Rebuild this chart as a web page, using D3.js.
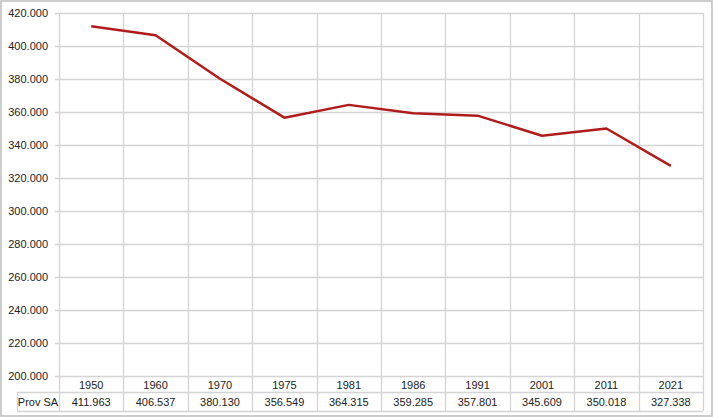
<!DOCTYPE html>
<html><head><meta charset="utf-8">
<script src="https://cdn.jsdelivr.net/npm/d3@7"></script>
<style>body{margin:0;background:#fff}svg{display:block}text{font-family:"Liberation Sans",Arial,sans-serif;font-size:11px;fill:#222}</style>
</head><body><svg id="c" width="714" height="417"></svg>
<script>
const categories = ["1950","1960","1970","1975","1981","1986","1991","2001","2011","2021"];
const values = [411963,406537,380130,356549,364315,359285,357801,345609,350018,327338];
const valueLabels = ["411.963","406.537","380.130","356.549","364.315","359.285","357.801","345.609","350.018","327.338"];
const seriesName = "Prov SA";
const yTicks = [200000,220000,240000,260000,280000,300000,320000,340000,360000,380000,400000,420000];

const svg = d3.select("#c");
const L = 59, R = 703, T = 13, B = 376, row1 = 392, row2 = 411, tableLeft = 17;
const grid = "#d4d4d4";
const tickFmt = v => (v/1000).toFixed(0) + ".000";

svg.append("rect").attr("x",1).attr("y",1).attr("width",711).attr("height",415)
  .attr("fill","#fff").attr("stroke","#bdbdbd").attr("stroke-width",1.5);

const x = d3.scaleBand().domain(categories).range([L,R]);
const y = d3.scaleLinear().domain([200000,420000]).range([B,T]);

svg.append("g").selectAll("line").data(yTicks).join("line")
  .attr("x1",L-4).attr("x2",R).attr("y1",d=>Math.round(y(d))+0.5).attr("y2",d=>Math.round(y(d))+0.5)
  .attr("stroke",grid).attr("stroke-width",1.3);
svg.append("g").selectAll("text").data(yTicks).join("text")
  .attr("x",L-11).attr("y",d=>y(d)+4).attr("text-anchor","end").text(tickFmt);

const bounds = categories.map(c=>x(c)).concat([R]);
svg.append("g").selectAll("line").data(bounds).join("line")
  .attr("x1",d=>Math.round(d)+0.5).attr("x2",d=>Math.round(d)+0.5)
  .attr("y1",T).attr("y2",row2).attr("stroke",grid).attr("stroke-width",1.3);

svg.append("line").attr("x1",tableLeft).attr("x2",R).attr("y1",row1+0.5).attr("y2",row1+0.5).attr("stroke",grid).attr("stroke-width",1.3);
svg.append("line").attr("x1",tableLeft).attr("x2",R).attr("y1",row2+0.5).attr("y2",row2+0.5).attr("stroke",grid).attr("stroke-width",1.3);
svg.append("line").attr("x1",tableLeft+0.5).attr("x2",tableLeft+0.5).attr("y1",row1).attr("y2",row2).attr("stroke",grid).attr("stroke-width",1.3);

svg.append("g").selectAll("text").data(categories).join("text")
  .attr("x",d=>x(d)+x.bandwidth()/2).attr("y",389).attr("text-anchor","middle").text(d=>d);
svg.append("g").selectAll("text").data(valueLabels).join("text")
  .attr("x",(d,i)=>x(categories[i])+x.bandwidth()/2).attr("y",406).attr("text-anchor","middle").text(d=>d);
svg.append("text").attr("x",(tableLeft+L)/2).attr("y",406).attr("text-anchor","middle").text(seriesName);

const line = d3.line().x((d,i)=>x(categories[i])+x.bandwidth()/2).y(d=>y(d));
svg.append("path").datum(values).attr("d",line).attr("fill","none")
  .attr("stroke","#b01c1c").attr("stroke-width",2.5).attr("stroke-linejoin","round");
</script></body></html>
